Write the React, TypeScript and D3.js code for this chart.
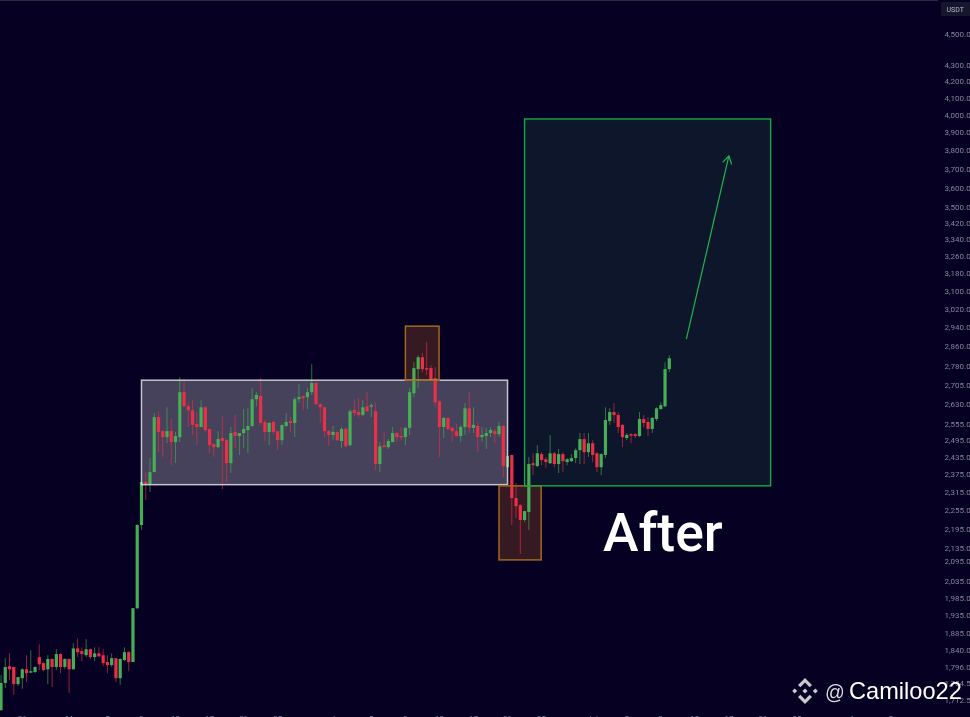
import React from "react";
import * as d3 from "d3";

const opens = [1687,1755,1798,1796,1752,1767,1790,1783,1783,1822,1806,1790,1817,1796,1830,1796,1817,1790,1845,1838,1827,1843,1822,1832,1827,1809,1801,1819,1767,1814,1835,1809,1956,2207,2349,2342,2383,2581,2529,2507,2529,2489,2507,2676,2622,2607,2555,2544,2618,2537,2482,2471,2504,2496,2414,2526,2511,2522,2533,2548,2649,2661,2563,2526,2563,2529,2496,2548,2566,2559,2649,2661,2657,2676,2712,2630,2618,2529,2515,2526,2493,2537,2478,2607,2600,2589,2622,2622,2603,2411,2478,2471,2489,2522,2511,2507,2541,2672,2767,2815,2771,2771,2731,2641,2544,2578,2541,2529,2511,2544,2614,2541,2548,2507,2511,2522,2529,2518,2548,2400,2443,2295,2271,2223,2249,2414,2404,2446,2428,2414,2449,2411,2446,2418,2421,2432,2460,2500,2453,2485,2449,2400,2443,2566,2600,2589,2552,2504,2518,2518,2511,2574,2563,2537,2574,2611,2622,2767];
const highs = [1775,1819,1832,1796,1770,1793,1827,1840,1798,1856,1809,1827,1819,1843,1832,1819,1819,1859,1872,1848,1870,1845,1848,1848,1843,1827,1832,1819,1819,1848,1838,1956,2210,2352,2383,2432,2596,2603,2533,2618,2574,2526,2735,2727,2637,2645,2600,2645,2622,2537,2485,2529,2585,2500,2544,2589,2522,2611,2614,2692,2676,2731,2570,2563,2566,2529,2552,2596,2581,2657,2708,2661,2692,2787,2716,2634,2622,2533,2548,2529,2544,2541,2611,2649,2653,2645,2676,2634,2637,2489,2526,2500,2544,2526,2544,2544,2692,2795,2823,2832,2878,2783,2775,2645,2581,2581,2548,2555,2552,2634,2676,2618,2563,2544,2541,2544,2537,2563,2552,2446,2443,2346,2275,2252,2436,2449,2478,2453,2436,2515,2453,2464,2453,2432,2446,2467,2522,2522,2522,2496,2453,2449,2618,2614,2634,2600,2555,2522,2522,2522,2600,2589,2581,2581,2618,2637,2795,2823];
const lows = [1685,1742,1762,1725,1747,1740,1757,1780,1780,1788,1785,1752,1745,1788,1780,1790,1730,1790,1822,1811,1822,1817,1811,1822,1798,1780,1796,1757,1750,1811,1785,1809,1953,2191,2288,2315,2383,2453,2436,2485,2407,2414,2489,2618,2544,2515,2478,2544,2526,2449,2436,2467,2325,2349,2380,2467,2443,2467,2449,2544,2622,2552,2493,2478,2518,2460,2478,2544,2526,2507,2634,2607,2611,2665,2626,2559,2507,2474,2496,2493,2467,2471,2474,2585,2578,2585,2600,2581,2390,2383,2471,2464,2489,2489,2496,2478,2515,2657,2692,2755,2743,2719,2618,2436,2504,2533,2489,2507,2489,2515,2522,2522,2453,2489,2464,2507,2485,2507,2366,2397,2207,2229,2116,2217,2191,2373,2400,2407,2397,2411,2400,2380,2383,2407,2418,2414,2411,2411,2436,2418,2383,2373,2432,2552,2559,2522,2471,2496,2485,2504,2507,2541,2511,2522,2566,2611,2618,2755];
const closes = [1755,1796,1790,1752,1770,1790,1780,1785,1796,1803,1788,1817,1796,1830,1796,1817,1790,1845,1835,1830,1843,1822,1832,1824,1806,1801,1819,1767,1817,1835,1809,1956,2207,2349,2342,2383,2581,2526,2507,2529,2489,2511,2676,2622,2607,2552,2544,2618,2533,2478,2471,2500,2493,2414,2522,2511,2522,2537,2548,2649,2665,2559,2526,2559,2526,2496,2552,2563,2559,2649,2657,2653,2676,2712,2630,2618,2529,2515,2526,2496,2537,2474,2603,2596,2589,2618,2603,2626,2411,2474,2471,2493,2522,2507,2507,2541,2676,2771,2815,2767,2767,2723,2637,2544,2578,2537,2529,2511,2544,2614,2541,2552,2507,2515,2522,2533,2518,2548,2404,2439,2295,2268,2223,2252,2411,2407,2449,2425,2418,2449,2411,2446,2421,2428,2432,2460,2500,2453,2485,2443,2400,2446,2570,2600,2589,2544,2507,2515,2515,2511,2574,2559,2537,2578,2614,2626,2767,2811];

const priceTicks = [4500,4300,4200,4100,4000,3900,3800,3700,3600,3500,3420,3340,3260,3180,3100,3020,2940,2860,2780,2705,2630,2555,2495,2435,2375,2315,2255,2195,2135,2095,2035,1985,1935,1885,1840,1796,1754.5,1712.5];
const dateLabels = ["26","May","5","9","13","17","21","25","Jun","5","9","13","17","21","25","Jul","5","9","13","17","21","25","Aug","5"];
const dateIndexes = [5,17,25,33,41,49,57,65,79,87,95,103,111,119,127,139,147,155,163,171,179,187,201,209];

const WHITE_BOX = { i0: 33, i1: 119, hi: 2723, lo: 2340 };
const TOP_BOX = { i0: 95, i1: 102.9, hi: 2945, lo: 2723 };
const LOW_BOX = { i0: 117, i1: 126.9, hi: 2336, lo: 2098 };
const GREEN_BOX = { i0: 123, i1: 180.8, hi: 3978, lo: 2336 };
const ARROW = { i0: 161, p0: 2890, i1: 171, p1: 3770 };

const x = d3.scaleLinear().domain([0, 157]).range([1, 669.3]);
const y = d3.scaleLog().domain([4500, 1796]).range([34, 667]);
const fmt = d3.format(",.2f");
const UP = "#46ae56";
const DOWN = "#ec2f48";
const AXIS = "#85859a";

function Box({ b, stroke, fill, sw }: any) {
  const X0 = x(b.i0);
  const X1 = x(b.i1);
  return (
    <rect x={X0} y={y(b.hi)} width={X1 - X0} height={y(b.lo) - y(b.hi)} fill={fill} stroke={stroke} strokeWidth={sw} />
  );
}

function Logo({ cx, cy }: { cx: number; cy: number }) {
  const c = "#c9c9cf";
  const diamond = (dx: number, dy: number, r: number) =>
    `M${cx + dx},${cy + dy - r}L${cx + dx + r},${cy + dy}L${cx + dx},${cy + dy + r}L${cx + dx - r},${cy + dy}Z`;
  const chevron = (s: number) =>
    `M${cx},${cy + s * 13}L${cx + 7},${cy + s * 6}L${cx + 4.6},${cy + s * 3.8}L${cx},${cy + s * 8.4}L${cx - 4.6},${cy + s * 3.8}L${cx - 7},${cy + s * 6}Z`;
  return (
    <g fill={c}>
      <path d={chevron(1)} />
      <path d={chevron(-1)} />
      <path d={diamond(0, 0, 2.6)} />
      <path d={diamond(-10.3, 0, 2.5)} />
      <path d={diamond(10.3, 0, 2.5)} />
    </g>
  );
}

export default function App() {
  const bodyW = 3.2;
  const ax0 = x(ARROW.i0), ay0 = y(ARROW.p0), ax1 = x(ARROW.i1), ay1 = y(ARROW.p1);
  const ang = Math.atan2(ay0 - ay1, ax0 - ax1);
  const head = (d: number) => `${ax1 + 9 * Math.cos(ang + d)},${ay1 + 9 * Math.sin(ang + d)}`;
  return (
    <svg width={970} height={717} style={{ position: "absolute", left: 0, top: 0, background: "#060022" }}>
      <defs>
        <filter id="soft" x="-2%" y="-2%" width="104%" height="104%">
          <feGaussianBlur stdDeviation="0.3" />
        </filter>
      </defs>
      <g filter="url(#soft)">
        <line x1={0} x2={938} y1={0.5} y2={0.5} stroke="#2a2a3e" />
        <Box b={GREEN_BOX} stroke="none" fill="#0f162a" sw={0} />
        <Box b={WHITE_BOX} stroke="none" fill="rgba(255,255,255,0.26)" sw={0} />
        <Box b={TOP_BOX} stroke="none" fill="rgba(245,130,40,0.2)" sw={0} />
        <Box b={LOW_BOX} stroke="none" fill="rgba(245,130,40,0.2)" sw={0} />
        <g>
          {opens.map((o, i) => {
            const c = closes[i];
            const col = c >= o ? UP : DOWN;
            const top = y(Math.max(o, c));
            const h = Math.max(1.4, Math.abs(y(o) - y(c)));
            return (
              <g key={i} fill={col}>
                <line x1={x(i)} x2={x(i)} y1={y(highs[i])} y2={y(lows[i])} stroke={col} strokeWidth={0.9} opacity={0.7} />
                <rect x={x(i) - bodyW / 2} y={top} width={bodyW} height={h} />
              </g>
            );
          })}
        </g>
        <Box b={WHITE_BOX} stroke="rgba(225,225,232,0.85)" fill="none" sw={1.5} />
        <Box b={TOP_BOX} stroke="#a3681c" fill="none" sw={1.5} />
        <Box b={LOW_BOX} stroke="#a3681c" fill="none" sw={1.5} />
        <Box b={GREEN_BOX} stroke="#14aa40" fill="none" sw={1.4} />
        <g stroke="#1fb54f" strokeWidth={1.2} fill="none">
          <line x1={ax0} y1={ay0} x2={ax1} y2={ay1} />
          <polyline points={`${head(0.55)} ${ax1},${ay1} ${head(-0.55)}`} />
        </g>
        <g fontFamily="Roboto, sans-serif" fontSize={8} fill={AXIS}>
          {priceTicks.map((p) => (
            <text key={p} x={944.5} y={y(p)} dy="0.35em">{fmt(p)}</text>
          ))}
          {dateLabels.map((d, i) => (
            <text key={i} x={x(dateIndexes[i])} y={720.5} textAnchor="middle">{d}</text>
          ))}
        </g>
        <rect x={941} y={2} width={34} height={14} rx={2} fill="#17162f" />
        <text x={946.5} y={12} fontFamily="Roboto, sans-serif" fontSize={7} fill="#b8b8c4">USDT</text>
      </g>
      <text x={603} y={551} fontFamily="Roboto, sans-serif" fontWeight={500} fontSize={53.5} fill="#ffffff">After</text>
      <Logo cx={805} cy={691} />
      <text x={825} y={699} fontFamily="'Liberation Sans', Arial, sans-serif" fontSize={19.5} fill="#d8d8de">@</text>
      <text x={849} y={699} fontFamily="'Liberation Sans', Arial, sans-serif" fontSize={23.6} fill="#ffffff">Camiloo22</text>
    </svg>
  );
}
